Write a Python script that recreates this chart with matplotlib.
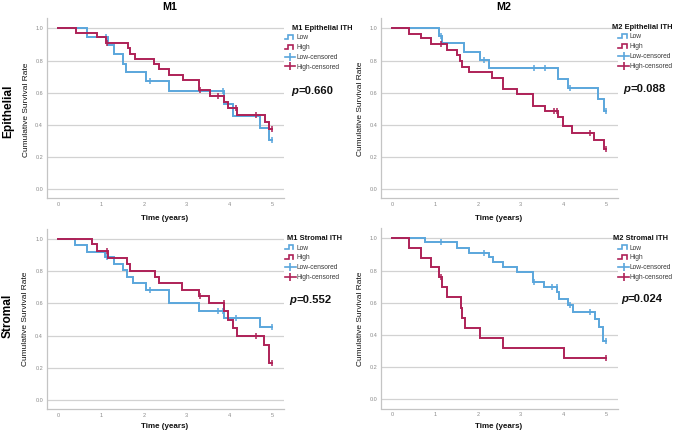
import numpy as np
import matplotlib
matplotlib.use('Agg')
import matplotlib.pyplot as plt
from matplotlib.lines import Line2D
from matplotlib.legend_handler import HandlerBase

plt.rcParams['font.family'] = ['Liberation Sans', 'DejaVu Sans']

# ---------------- data ----------------
column_titles = ['M1', 'M2']
row_titles = ['Epithelial', 'Stromal']
legend_titles = ['M1 Epithelial ITH', 'M2 Epithelial ITH', 'M1 Stromal ITH', 'M2 Stromal ITH']
p_values = ['=0.660', '=0.088', '=0.552', '=0.024']
series_labels = ['Low', 'High', 'Low-censored', 'High-censored']
x_ticks = [0, 1, 2, 3, 4, 5]
y_ticks = [0.0, 0.2, 0.4, 0.6, 0.8, 1.0]

# M1 Epithelial
m1e_low_t = [0.68, 1.15, 1.29, 1.52, 1.58, 2.04, 2.59, 3.87, 4.07, 4.70, 4.93]
m1e_low_s = [0.947, 0.896, 0.838, 0.780, 0.727, 0.673, 0.611, 0.530, 0.457, 0.383, 0.306]
m1e_low_c = [1.11, 2.14, 3.84, 5.0]
m1e_high_t = [0.41, 0.90, 1.11, 1.62, 1.67, 1.78, 2.24, 2.36, 2.59, 2.92, 3.29, 3.54,
              3.86, 3.97, 4.18, 4.83, 4.93]
m1e_high_s = [0.973, 0.944, 0.911, 0.876, 0.840, 0.807, 0.780, 0.745, 0.712, 0.679, 0.617, 0.582,
              0.545, 0.503, 0.460, 0.416, 0.375]
m1e_high_c = [1.14, 3.31, 3.74, 4.14, 4.62, 5.0]

# M2 Epithelial
m2e_low_t = [1.10, 1.17, 1.68, 2.05, 2.25, 3.87, 4.10, 4.82, 4.94]
m2e_low_s = [0.953, 0.907, 0.855, 0.803, 0.752, 0.687, 0.627, 0.559, 0.487]
m2e_low_c = [1.14, 2.15, 3.32, 3.56, 4.16, 5.0]
m2e_high_t = [0.39, 0.67, 0.90, 1.27, 1.50, 1.58, 1.63, 1.78, 2.32, 2.58, 2.91, 3.30, 3.56,
              3.88, 4.00, 4.21, 4.71, 4.94]
m2e_high_s = [0.967, 0.937, 0.903, 0.866, 0.834, 0.797, 0.762, 0.728, 0.694, 0.625, 0.590, 0.518,
              0.487, 0.451, 0.393, 0.352, 0.306, 0.250]
m2e_high_c = [1.14, 3.77, 3.85, 4.63, 5.0]

# M1 Stromal
m1s_low_t = [0.39, 0.68, 1.09, 1.29, 1.50, 1.60, 1.75, 2.04, 2.59, 3.29, 3.86, 4.70]
m1s_low_s = [0.963, 0.921, 0.890, 0.845, 0.807, 0.766, 0.725, 0.683, 0.600, 0.555, 0.507, 0.451]
m1s_low_c = [1.13, 2.14, 3.74, 3.84, 4.14, 5.0]
m1s_high_t = [0.78, 0.90, 1.16, 1.60, 1.67, 2.26, 2.36, 2.90, 3.29, 3.53, 3.88, 3.96, 4.07,
              4.18, 4.81, 4.92]
m1s_high_s = [0.967, 0.925, 0.884, 0.845, 0.803, 0.766, 0.725, 0.683, 0.646, 0.600, 0.553, 0.500,
              0.449, 0.400, 0.342, 0.228]
m1s_high_c = [1.14, 3.31, 3.86, 4.62, 5.0]

# M2 Stromal
m2s_low_t = [0.77, 1.51, 1.78, 2.25, 2.35, 2.59, 2.91, 3.30, 3.54, 3.85, 3.89, 4.10, 4.22,
             4.73, 4.84, 4.93]
m2s_low_s = [0.975, 0.942, 0.911, 0.882, 0.851, 0.820, 0.789, 0.731, 0.700, 0.665, 0.621, 0.586,
             0.540, 0.497, 0.451, 0.362]
m2s_low_c = [1.14, 2.15, 3.32, 3.74, 3.84, 4.16, 4.63, 5.0]
m2s_high_t = [0.39, 0.67, 0.91, 1.10, 1.17, 1.27, 1.60, 1.63, 1.69, 2.04, 2.59, 4.01]
m2s_high_s = [0.942, 0.880, 0.820, 0.762, 0.700, 0.638, 0.569, 0.507, 0.441, 0.379, 0.317, 0.255]
m2s_high_c = [1.14, 5.0]

curves = [
    ((m1e_low_t, m1e_low_s, m1e_low_c), (m1e_high_t, m1e_high_s, m1e_high_c)),
    ((m2e_low_t, m2e_low_s, m2e_low_c), (m2e_high_t, m2e_high_s, m2e_high_c)),
    ((m1s_low_t, m1s_low_s, m1s_low_c), (m1s_high_t, m1s_high_s, m1s_high_c)),
    ((m2s_low_t, m2s_low_s, m2s_low_c), (m2s_high_t, m2s_high_s, m2s_high_c)),
]

# ---------------- layout / style ----------------
W, H = 675, 433
BLUE = '#5aa6dc'
RED = '#ae2157'

def fx(x):
    return x / W

def fy(y):
    return 1 - y / H

# axes boxes in pixels: left, top, right, bottom
boxes = [(46.5, 18, 284, 198.5), (380.7, 18, 617.7, 198.5),
         (46.5, 228.7, 284, 409.2), (380.7, 228, 617.7, 408.5)]
ylabel_pos = [(26, 109.5), (360, 108.5), (25.5, 319), (360, 319)]
xlabel_pos = [(165, 218.5), (498.5, 218.5), (165, 427), (498.5, 427)]
ptext_pos = [(291.7, 90.7), (623.3, 89.0), (289.3, 300), (621, 299)]
legtitle_pos = [(292, 28), (611.7, 27.7), (287.3, 239), (613.3, 239)]
leg_pos = [(284.7, 34.2), (618.3, 33.5), (285, 244.5), (618.3, 244.5)]


class StepHandler(HandlerBase):
    def create_artists(self, legend, orig_handle, xdescent, ydescent, width, height,
                       fontsize, trans):
        x0, y0 = -xdescent, -ydescent
        lo = y0 + 0.1 * height
        hi = y0 + 0.9 * height
        xs = [x0, x0 + 0.35 * width, x0 + 0.35 * width, x0 + 0.78 * width, x0 + 0.78 * width]
        ys = [lo, lo, hi, hi, lo]
        ln = Line2D(xs, ys, color=orig_handle.get_color(), lw=orig_handle.get_linewidth(),
                    solid_joinstyle='miter', transform=trans)
        return [ln]


fig = plt.figure(figsize=(W / 100, H / 100), dpi=100)

for i, (box, (low, high)) in enumerate(zip(boxes, curves)):
    l, t, r, b = box
    ax = fig.add_axes([fx(l), fy(b), (r - l) / W, (b - t) / H])
    ax.set_xlim(-0.275, 5.27)
    ax.set_ylim(-0.057, 1.064)
    ax.set_xticks(x_ticks)
    ax.set_xticklabels([str(v) for v in x_ticks])
    ax.set_yticks(y_ticks)
    ax.set_yticklabels(['%.1f' % v for v in y_ticks])
    ax.grid(axis='y', color='#d2d2d2', lw=0.9)
    ax.set_axisbelow(True)
    for s in ['top', 'right']:
        ax.spines[s].set_visible(False)
    for s in ['left', 'bottom']:
        ax.spines[s].set_color('#c4c4c4')
        ax.spines[s].set_linewidth(0.9)
    ax.tick_params(length=0, labelsize=4, labelcolor='#8a8a8a', pad=2.5)

    for (tt, ss, cc), col in zip((low, high), (BLUE, RED)):
        xs = np.r_[0.0, tt, cc[-1]]
        ys = np.r_[1.0, ss, ss[-1]]
        ax.step(xs, ys, where='post', color=col, lw=1.4, solid_joinstyle='miter')
        cc = np.asarray(cc)
        cy = ys[np.searchsorted(xs, cc, side='right') - 1]
        ax.plot(cc, cy, ls='none', marker='|', ms=5, mew=1.1, color=col)

    handles = [Line2D([], [], color=BLUE, lw=1.2), Line2D([], [], color=RED, lw=1.2),
               Line2D([], [], color=BLUE, lw=1.2, marker='|', ms=5.5, mew=1.2),
               Line2D([], [], color=RED, lw=1.2, marker='|', ms=5.5, mew=1.2)]
    lx, ly = leg_pos[i]
    leg = ax.legend(handles, series_labels, loc='upper left',
                    bbox_to_anchor=(fx(lx), fy(ly)), bbox_transform=fig.transFigure,
                    frameon=False, borderpad=0, borderaxespad=0, fontsize=4.8,
                    handlelength=1.6, handletextpad=0.15, labelspacing=0.43, numpoints=1,
                    handler_map={handles[0]: StepHandler(), handles[1]: StepHandler()})
    for txt in leg.get_texts():
        txt.set_color('#3a3a3a')

    tx, ty = legtitle_pos[i]
    fig.text(fx(tx), fy(ty), legend_titles[i], ha='left', va='center',
             fontsize=5.4, fontweight='bold', color='#111111')

    yx, yy = ylabel_pos[i]
    fig.text(fx(yx), fy(yy), 'Cumulative Survival Rate', rotation=90, ha='center',
             va='center', fontsize=6.0, color='#111111')
    xx, xy = xlabel_pos[i]
    fig.text(fx(xx), fy(xy), 'Time (years)', ha='center', va='center', fontsize=5.8,
             fontweight='bold', color='#111111')

    px, py = ptext_pos[i]
    ptxt = fig.text(fx(px), fy(py), 'p', ha='left', va='center', fontsize=8.1,
                    fontweight='bold', style='italic', color='#111111')
    ax.annotate(p_values[i], xy=(1, 0), xycoords=ptxt, ha='left', va='bottom',
                fontsize=8.1, fontweight='bold', color='#111111', annotation_clip=False)

fig.text(fx(170), fy(6.5), column_titles[0], ha='center', va='center', fontsize=7.7,
         fontweight='bold')
fig.text(fx(504), fy(6.5), column_titles[1], ha='center', va='center', fontsize=7.7,
         fontweight='bold')
fig.text(fx(8), fy(111), row_titles[0], rotation=90, ha='center', va='center',
         fontsize=8.6, fontweight='bold')
fig.text(fx(8), fy(316), row_titles[1], rotation=90, ha='center', va='center',
         fontsize=8.6, fontweight='bold')

fig.savefig('out.png', dpi=100)
